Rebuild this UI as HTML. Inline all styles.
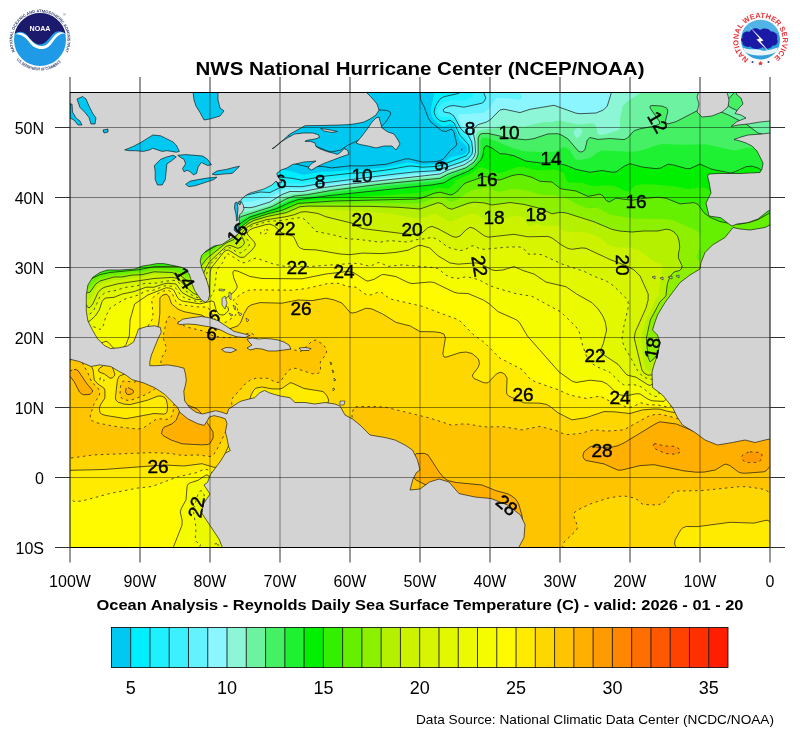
<!DOCTYPE html><html><head><meta charset="utf-8"><style>html,body{margin:0;padding:0;background:#fff;width:800px;height:737px;overflow:hidden}svg{display:block}</style></head><body><svg width="800" height="737" viewBox="0 0 800 737">
<rect width="800" height="737" fill="#fff"/>
<g>
<defs><path id="noaatop" d="M14.99 51.66 A27.60 27.60 0 1 1 65.01 51.66"/><path id="noaabot" d="M16.56 59.67 A30.60 30.60 0 0 0 63.44 59.67"/></defs>
<circle cx="40" cy="40" r="26" fill="#1f9ae6"/>
<path d="M14.6 34 A26 26 0 0 1 65.6 34 C62 31 57 30 53 34 C49 38 46 44 40 44.5 C34 44 31 40 27 35 C23 31 18 31 14.6 34 Z" fill="#1c1a6c"/>
<path d="M15 34.5 C20 31 25 33 29 38 C33 43 37 46 42 46 C47 46 50 41 54 36 C57 32 61 31 65.5 33.5 C61 33 58 35 55 39 C52 43 49 48.5 43 49 C37 49.5 33 47 29.5 42.5 C25.5 37.5 21 33.5 15 34.5 Z" fill="#fff"/>
<text x="40" y="30.5" text-anchor="middle" font-family="Liberation Sans, sans-serif" font-weight="bold" font-size="7.6" fill="#fff" textLength="21" lengthAdjust="spacingAndGlyphs">NOAA</text>
<text font-family="Liberation Sans, sans-serif" font-weight="bold" font-size="4" fill="#34406e"><textPath href="#noaatop" textLength="118" lengthAdjust="spacingAndGlyphs">NATIONAL OCEANIC AND ATMOSPHERIC ADMINISTRATION</textPath></text>
<text font-family="Liberation Sans, sans-serif" font-weight="bold" font-size="4" fill="#34406e"><textPath href="#noaabot" textLength="50" lengthAdjust="spacingAndGlyphs">U.S. DEPARTMENT OF COMMERCE</textPath></text>
<text x="63" y="16" font-family="Liberation Sans, sans-serif" font-size="4" fill="#555">®</text>
</g>
<g>
<defs><path id="nwsring" d="M748.74 58.83 A22.20 22.20 0 1 1 772.26 58.83"/></defs>
<circle cx="760.5" cy="40" r="19.5" fill="#2f9fdc"/>
<path d="M742 33 A19.5 19.5 0 0 1 779 33 Z" fill="#52b4e6"/>
<path d="M742.5 38 C741.5 33 746 30.5 749.5 32 C751 28 757 27 760 30 C763 27.5 769 28 771 31.5 C775 31 778.5 35 777 39 C779 42.5 776 46.5 772.5 45.5 C771 49 765 50 762.5 47 C759 50 752 49.5 750.5 46.5 C746 48 741.5 45 742.5 42 C740.5 41 740.5 38.5 742.5 38 Z" fill="#1a1aa6"/>
<path d="M743 47.5 C750 51 755 48 760.5 50 C766 52 772 49 778 47.5 L776.5 51.5 C770 56.5 751 57 744.5 51.5 Z" fill="#e8f4fb"/>
<path d="M748.5 25.5 L759.5 38.5 L756.5 39.5 L771 54 L760.5 41.5 L763.5 40.5 Z" fill="#fff"/>
<text font-family="Liberation Sans, sans-serif" font-weight="bold" font-size="7.4" fill="#e53238"><textPath href="#nwsring" textLength="112" lengthAdjust="spacingAndGlyphs">NATIONAL WEATHER SERVICE</textPath></text>
<circle cx="752.5" cy="62" r="1" fill="#2a3a9a"/><circle cx="768.5" cy="62" r="1" fill="#2a3a9a"/>
<path d="M760.5 61 l0.8 1.6 1.7 0.2 -1.3 1.1 0.4 1.7 -1.6 -0.9 -1.6 0.9 0.4 -1.7 -1.3 -1.1 1.7 -0.2z" fill="#e53238"/>
</g>
<text x="420" y="75" text-anchor="middle" font-family="Liberation Sans, sans-serif" font-weight="bold" font-size="19" textLength="449" lengthAdjust="spacingAndGlyphs">NWS National Hurricane Center (NCEP/NOAA)</text>
<defs><clipPath id="mc"><rect x="70" y="92" width="700" height="455"/></clipPath></defs>
<g clip-path="url(#mc)">
<g stroke="none"><rect x="66" y="88" width="710" height="464" fill="#00c8f0"/><path fill="#00eeff" d="M68 88l93.9 0 6.1 6.4 50 37.6 32 20.3 11.9 5.7 2.1 2 0.1 2-2.8 6 0.1 2 2.6 0.5 14-1.6 12 2 10 3.2 4 0.6 18-3 10 0.1 20-2.2 12 0.1 22-2.4 20-4.6 6 0.1 10 2.1 14-0.7 7.7-2.2 8.3-5.6 8-0.8 4.7-1.6 2.1-2 0.6-2-0.2-2-1.2-2.3-6.1-5.7-5.9-13.6-2-1.9-2-0.3-4.5 1.8-3.5 0-6-4-3.3-4-1.5-4-0.5-4 3.6-16-1.4-6 341.1 0 0 462-708 0 0-462z"/><path fill="#1ef0ff" d="M68 88l92.3 0 1.2 2 6.5 5.9 50 37.5 20 13.2 21.9 13.4 0.3 2-2 4-10 10-1.3 2 0.6 2 4.5-0.1 20-3.4 20 1.8 10 2 20-3.8 30-3.3 14-0.6 24-3.1 18-3.3 4-0.2 10 1.2 14-0.7 4-0.9 26-9.7 2.2-1.9 1-2 0.3-2-0.6-4-0.9-2-8-8.6-6-12.5-2-1.8-2-0.8-6 1.3-4-0.8-4-3.5-2-5.3 1.5-6 4.5-7 4-2.3 14-3.1 2.7-1.6 2.4-4 310.9 0 0 462-708 0 0-462z"/><path fill="#3cf0ff" d="M68 88l90.5 0 1.5 2.5 8 7.2 48 36 22 14.9 12.3 7.4 5.1 4 1 2-0.3 2-1.3 2-22.4 20-1.2 2 0.8 1.7 2 0.2 30-5.3 8 0.6 12-2.3 18 0.9 24-4 38-4.2 46-6.1 14-0.1 12-0.8 4-0.9 24-8.7 4.8-3 2.2-4-0.2-6-1.3-4-3.5-4.5-6-6.1-3.4-7.4-2.6-4.2-4-2.9-8 0.2-2-0.7-2.2-2.4-0.4-4 2.6-4.8 4.5-3.2 7.5-1.8 12 0.2 6.5-2.4 2.7-2 0.6-2 0-6 300.2 0 0 462-708 0 0-462z"/><path fill="#64f2ff" d="M68 88l88 0 0.6 2 1.7 2 7.7 6.9 60.8 45.1 15.3 14 3.6 4 0.2 2-1.4 4-3.8 6-16.7 13.1-8.7 8.9-0.9 2 1.6 1.4 2 0.3 30-4.9 12-2.8 10 0.5 10-4.9 4-1.2 18 0.3 22-3.8 70-8.7 20-2.2 22-1.3 4-0.9 22-8 6-2.9 2-1.7 2-3.1 0.7-4.1-1-8-3.7-7.1-6-4.6-1.6-2.3-6.4-11.8-4-3.1-5.9-1.1-1-2 1.8-2 5.1-2.1 4-0.3 10 1.6 18-4 2-1.5 1.9-3.7-0.4-2-2.1-4-0.5-4 291.1 0 0 462-708 0 0-462z"/><path fill="#8cf6ff" d="M68 88l39.1 0 0.9 3 4 6.5 23 32.5 19 28.4 6 7.9 23.8 17.7 20.2 11.5 2 1.9 1.3 2.6 0.2 8 2.5 0.5 36-6.7 6-0.2 10-2.9 6-0.9 4-1.5 10-5.7 4-1.4 16 0.2 16-3.2 26-3.6 70-8.3 22-1.5 4-0.9 6-2.9 14-4.5 8-3.6 3.4-2.9 2.2-4 0.5-4-0.7-8-1.4-5.1-2-4.5-2-2.7-6-3.7-2-3.8-1.8-6.2 1.3-2 6.5 0.1 18-1.4 4-2.9 8-11.1 2-0.7 10 0.2 10 1.6 2-0.4 1.8-1.4 0-2-2.4-4-0.1-4 254.7 0 0 462-708 0 0-462z"/><path fill="#8cf6d6" d="M68 88l36.8 0 1.2 3.6 4 6.6 25.3 35.8 16.7 25.1 6.9 8.9 24.3 18 18.8 10.6 3.2 3.4 0.1 4-1.3 2-10.6 10 0.6 2 30-4.7 10-2.5 10-3.4 6 0.3 4-0.7 15.9-5 12.1-7.5 4-1.9 4-1.1 12 0.1 20-3.8 22-3.1 72-8.5 20-1.3 4-0.9 8-3.9 8-2.2 8-3.1 4-1.9 4-3.2 2.5-3.7 1-4-0.5-10-1.8-10 0.8-3.7 4-3.6 10-3.3 2-1.4 8-8.7 4-2.1 4 0.3 10 2.7 4 0.4 10-3.3 24-4 4 1 18 6.9 4 0.5 16-0.7 3.7-1 3.6-2 2.7-2 1.3-2 4.3-14 0-4 162.4 0 0 462-708 0 0-462z"/><path fill="#6cf2a0" d="M68 88l35.3 0 2.5 6 4.2 6.5 23.7 33.5 16.3 24.5 8 10.5 24 17.7 12.1 7.3 5.9 2.9 3.7 3.1 0.5 2-0.5 2-1.7 2-13 10-8.2 8-1.4 2 0.6 1.1 2 0.3 26-3.9 18-4.7 16-6.4 8-1.1 18-5.4 4.5-1.9 11.5-7 8-3.1 12-0.6 24-4.4 37.6-4.9 52.4-6 18-1 4-0.9 8-4.1 8-2.3 10-3.8 4-2.3 3.8-3.6 2.9-6 0.3-4-1-14.6 0.1-1.4 1.9-2.7 6-1.9 10-1 8-3.1 22 1.2 20-4.5 8 0.2 4-1.2 4-0.2 18 3.7 12-1.1 4 0.3 2.1 2.3 1.1 6 0.8 1.8 2 1.1 4-0.3 9-2.6 5.8-2 1.5-2-0.5-8 2.9-14 3.7-4 12.2-8 1.6-2-0.1-4 133.9 0 0 462-708 0 0-462zM577.5 128l-1.5 0.5-1.4 1.5-1 2 0 2 2.4 3.6 2 0.5 2-1.8 1.3-2.3 1-2 0-2-2.3-2-2-0.3z"/><path fill="#46f064" d="M68 88l34.1 0 2.5 6 5.1 8 22.6 32 17.4 26 7.7 10 24.6 18 17.8 10 2.5 2 0.6 2-0.9 2.3-28.2 21.7-6.9 6-3.2 4 0.3 0.7 2 0.6 30-4.4 26-7.4 8-3 12-6.2 30-9.7 14-7.6 8-2.9 14-1.5 24-4.3 50.1-6.3 35.9-4 16-0.7 6-1 8.3-4.3 17.7-6.2 4-2.2 4-3.4 2.9-4.2 1.3-4 0-16 0.5-2 1.3-1.6 2-0.8 6-0.2 22 4.9 16 1.5 8-1.2 14-4.7 10-0.2 4 1.6 6 3.7 10 11.8 2 1.1 2 0 2.8-1.9 2.5-10 2.7-2.5 8 1.9 12-0.9 14 1.1 3.5-1.6 4.5-5.7 2-1.5 6-2 14.9-2.8 4.5-2 0.4-2-9.7-14 0.1-2 3.8-0.6 8 0.7 4.6 1.9 1.1 2 0 2-2.5 10 2.8 1.9 4-0.6 4-1.6 24-12.4 4-0.5 8 0.6 8 2 8 3.4 18.1 9.2 11.9 9 8 2.1 2 1.6 3.1 5.3 2.9 1.9 0 406.1-708 0 0-462zM738 88l15 0-0.1 22-0.9 3.9-2 1.6-4-0.4-4-1.8-12-6.1-3.2-3.2-0.2-2 0.9-2 8.5-9.2 1.5-2.8z"/><path fill="#1ef032" d="M68 88l32.9 0 1.4 4 3.3 6 26.4 37.5 16.3 24.5 7.6 10 26.1 19.2 18.6 10.8 1 2-1.6 2.6-31.9 23.4-12.5 10-5.3 6-0.8 2 2.5 0.9 18-2.1 14-2.5 36-10.9 8-3.5 10-6.3 12-6.1 23.4-7.5 14.6-7.2 8-2.8 20-2.6 16-2.8 53.3-6.6 54.7-5.2 10-5.1 18-6.7 6.7-5 3.1-4 1.8-4 0.7-4 0.4-12 1.3-2.1 2-0.5 6 1.3 24 9.9 10 2.6 16 0.9 12-0.1 6-1.4 4-2.8 2-0.6 2 0.2 4 3 4.3 7.6 1.7 1.4 4 0.7 10-2 8-5.8 4-1.8 28 1.2 6-0.2 7-1.5 15-5.2 4-0.8 24 0.8 20-0.5 28 6.3 4-0.5 8-2.3 6-0.1 6 1 8 4.1 2-0.3 3.1-2.5 2.9-0.8 0 400.8-708 0 0-462z"/><path fill="#00f000" d="M68 88l31.5 0 3.3 8 3.9 6 23.3 32.9 16.7 25.1 7.5 10 3.8 3.6 10 6.4 12 9.2 18.6 10.8 1.4 2-1.2 2-2.5 2-40.3 28.7-16.1 13.3-5.9 6-0.7 2 2.7 1 16-1.7 18-3.2 46-14.1 8-3.7 14-9.8 12-7.5 26-8.2 14-6.5 8-2.7 34-4.3 100-10.4 12-2.1 8-4.9 16-6.5 6-4 6.8-7.4 2-4 1.2-7.9 2-2.5 6 2.4 8 5.7 6 0.3 8 1.8 12 5.3 14 1.8 16-0.5 12 3.6 8 3.4 14 2.9 12-1.8 10 1.7 4-0.3 2-0.8 6.6-5.1 5.4-2.3 2.9 0.3 9.1 3 14 1.7 4.7-0.7 5.3-3.3 2-0.5 6 0.9 12 3.4 4 0.1 8-4.1 2-0.4 2 0.3 10 4.9 18 3.6 4-0.7 12-5.5 6-0.6 6 1.9 12.2 8 3.8 1.6 0 372.4-708 0 0-462z"/><path fill="#32f000" d="M68 88l29.3 0 1.2 4 4.4 8 25.1 35.6 19 28.4 6.1 8 2.9 2.6 12 7.3 12 9.2 15.6 8.9 1.9 2-1.2 2-16.2 12-12.1 7-14 9.8-30.2 23.2-6.6 6-1.2 2 0 2 2 0.8 4 0.1 14-1.6 24-4.3 48-15.1 8-3.3 6-3.4 28-20.8 16-5.3 12-3.2 14-6.4 6-2 34-3.3 82-4.9 6-0.8 18-4.5 10 0.3 2-0.6 1.9-1.7 4.6-6 15.5-7.1 6-4.4 4-1.5 16 6.2 4-0.7 14-5.1 4-0.8 4 0.4 8 2.2 8 1.1 12-0.9 4 0.3 6.1 2.3 2.1 2 2.2 6 1.6 1.9 2 0.7 12 0.2 8 2.7 4 0.8 10-1.1 8 0.4 4 0.9 8 3.9 4 0.9 2-0.6 4-4.5 2-1.2 6-0.8 12 0.4 20 1.7 14 2.6 14-1.7 4 1 6 4.6 4 2.2 6 1.9 4-0.3 10-2.7 18-3.1 4-0.2 6 1.5 2-0.1 4.6-6 3.4-1.8 0 365.8-708 0 0-462z"/><path fill="#64f000" d="M512 175.6l6-1.1 4 0.1 10 2.8 8 3.9 12 0.7 2 0.9 5.6 5.1 2.4 1 14 2 12 5.4 2 0.1 6-1.9 4-0.5 3.2 1.9 2.5 4 2.3 1.8 2.2 0.2 5.8-3.8 16 2.1 10-1.7 16-1.4 8 1 10 4.6 4 1.1 14-1.3 2 0.4 2 1.4 6 8.4 6 4.5 10 4.3 10 1.9 10 0.6 10.5-2.1 7.5-2.4 10-5.7 6-2.4 0 338.5-708 0 0-266 2-2 4-0.5 10 0.2 4-0.7 4-1.3 10-5 10-2.2 12-0.7 18-2.2 14-3 26-0.3 8-6.3 18-8.3 12-6.9 12.2-8.8 8.9-8 10.9-8.4 18-5.9 14-3.4 16-6.9 6-0.9 30-1.5 82-1.9 5.9-1.1 12.1-4.7 6-1.1 4 0.6 6 2.1 2-0.2 4.6-2.7 7.4-8 2-1.2 16-5.8 4-0.5 10 3.2 4 0.3 10.7-4z"/><path fill="#8cf000" d="M484 187.7l4-0.4 2 0.5 4 2.6 4 1.2 4-0.2 8-2.2 4-0.2 12 1.3 14 4.3 12 0.4 6.1 1 7.6 2 12.3 6.7 8 3 4 0.8 6-0.9 2 0.4 10 5.8 4 1.2 24 3.8 30 0.2 8 1.5 21.2 9.5 2.8 2 1.5 2 0.8 4-0.5 10-1.1 4-2.1 4-0.1 2 1.5 2 2 0.5 2-0.6 14-9.1 8-0.2 6-1.3 26-8.2 10-5.2 2 0.8 2 6 1.2 9.3 2.8 44.2 0 253.8-708 0 0-249.8 5.7-2.2 10.3-6.5 6-2.8 6.1-6.7 3.9-2.9 14-4.2 10-0.3 10-1.8 10-0.6 14-3 18 1.2 14 5.7 2-1.3 7.7-10.8 5.7-6 20.6-15.4 8-5.2 6.9-7.4 11.1-9.1 18-5.9 16-3.5 14-6.3 8-1 58-1.1 54 0.3 6-1.3 12-4.9 4-0.5 4 1.2 6 3.6 2 0.2 6-2.4 12-8.2 12.8-3.1z"/><path fill="#b4f000" d="M434 203.8l4-1.1 2 0.1 8 5.4 4 1 20-6.9 10 0.3 10 2.4 18-2.5 4 0.1 24.9 5.4 13.1 5.8 8-1.5 6 0.6 26 8.2 18 7.6 8 2.1 14 1.2 12-1 14 0 8-1.8 4 0.6 4.1 2.2 3.4 4 1.8 6 0.4 6-1.3 6 0 4 3.6 7.6-0.1 2.4-1.9 2.4-6 1.6-2 1.5-2 2.9-2.7 7.6-1.4 12-1.3 2-4.7 4-9.6 18-3.9 18 1.6 19.1 2 4.8 2-1.1 2-2.1 4-5.4 33.1-63.3 6.9-10.7 2-1.8 4-2 52-16.5 8-3.8 2-0.2 2 3.4 1 5.6 2.6 32 2.4 8.9 0 245.1-708 0 0-247.9 6-2.1 12-6.7 6-1.1 5.8-8.2 4.2-3 14-4 8 0 10-1.9 10-0.4 12-2.9 10 0.9 8-0.2 4 0.9 4 1.8 10 7.8 2 0.7 1.4-1.7 1.1-6 1.9-4 11-14 18.6-15 8-3.5 4.9-7.5 9.1-8.4 6-3.2 14-4.1 18-3.6 14-6 8-0.6 64 0.3 28 1 20 1.6 4-0.9 9.5-4.1z"/><path fill="#cdf200" d="M298 209.8l4-1.2 10 0 61.9 3.4 18.4 2 25.7 4.7 6-1.3 8-3 4-0.3 12 6.6 4 0.9 11.2-5.6 8.8-2.2 6 0.9 10 6.6 4 1 20-5.8 6-0.5 4 0.8 2.3 1.2 1.4 2 0.9 4 1.4 2.1 2-0.1 6-2.1 8 1.5 12 0.3 2 0.4 4.2 3.9 3.8 1.7 18 0.6 10 2.6 6 3 8 6.6 4 1.8 6 1 12 0.5 8 2 12 8.9 10.3 5.3 1.7 1.7 0.7 2.3-3.1 16-0.7 10-3.6 6-3.1 8-5.3 10-5.7 18-0.2 4 1.2 12 1.8 11 1.3 5 1.2 2 1.5 1 2 0.1 2-1.2 8.3-9.9 27.7-52.2 4-6.7 4-5 6-3.6 12-2.2 42-13.5 8-3.2 2 0.6 2 5.9 3.5 25.9 1.4 26 1.1 2.6 0 215.4-708 0 0-246.4 4-0.9 14-6.6 2 0.5 2 2.2 2 0.9 2-2.1 4.5-9.6 1.6-2 3.9-2.4 12-3.6 10-0.5 8-1.7 12-0.8 10-2.4 10 0.8 8-0.5 4 0.8 6 3.4 6 6.4 4 3.3 4 1.9 1.2-0.7 0.9-2 0.2-10 1.1-4 8.6-13.5 6.6-6.5 11.4-9.4 4-1.5 6 0.6 2-0.7 0.9-1 0.4-2-0.3-4 0.5-2 3-4 5.5-4.9 6-3.3 16-4.6 18-3.1 9.5-4.1z"/><path fill="#d7f500" d="M302 211.8l7.8 0.2 10.2 2 6 2.8 26 6.4 10 5.3 48 6 6-0.1 6-1.5 6-5.3 2-1 2-0.2 6 2.3 14 7.6 4 1.1 4-1.4 6-6.2 4-2.5 4 1.1 10 7.2 4 1.6 4-0.1 12-2 10-0.8 14 2.5 20-0.4 4 1.6 10 7.3 6 3.2 4 0.8 10-1.4 4 0.4 24 11.2 16.9 6.5 7.2 4 6 6 8.1 18-0.1 6-2.1 8-10.7 24-1.1 6 7.7 32 2.1 3.1 4 2.1 4-0.3 10-7.5 24-44.3 4-6.2 4-4 4-2.1 8-3 14-1.6 44-14.3 2 1.3 2 6.3 1.4 8.5 1.9 26 1.2 2 1.5 0.6 0 213.4-708 0 0-244.9 4-0.7 12-4.1 2 1.2 4 6.1 2-0.2 2.8-3.4 5.2-11.4 2.2-2.6 3.8-2.6 14-3.6 36-5.3 18-1.1 4 0.7 4 2.1 6 7 8 6.5 4 1.3 2-0.6 1.6-2.4 0.5-2 0.5-14 5.4-12.2 5-5.8 13-11.7 4-1 8 3.1 2-0.4 2-1.5 2-2.5 0.4-2-2.8-6 0-2 1-2 3.8-4 5.9-4 13-4 24.7-4.2 11.1-3.8z"/><path fill="#e1f800" d="M298 217.7l4 0.2 2 1 10 10.9 3.4 2.2 18.6 3.5 12 3.5 8 0.1 24 3.1 10-1.6 18 1.5 10-2.8 8-0.6 6-1.5 6 2.5 6 5.2 4 2.4 8 2.7 4 0.6 4.2-0.6 7.8-4.2 2 0.1 6 2.9 4 0.5 26-2.4 10 0.1 4 2.1 4 4.7 2 0.6 8-0.5 4 1 6 3.2 14 5.9 22 7.4 9.3 4.6 12.7 4.8 4 2.1 3.7 3.1 12.1 12 2.2 3.4 0.5 4.6-4.6 20-1.8 12 0.4 4 3.2 8 4.3 6.3 4.7 9.7 2.5 4 4.8 5.8 6 3.3 4 0.2 6-3.4 4-0.6 2.3-1.3 19.7-35.5 4-5.3 4-3.1 18-7 14-0.5 40-12.7 2 1.2 2 7.3 1.6 15.6 0.7 2 1.7 1.5 2 0.4 0 212.1-708 0 0-243.1 14-1.7 2 0.9 1.2 1.9 2.8 7 2 0.2 4-2.8 2-2.6 6-13.2 2-2.1 4-2.4 8-1.2 12-3.6 10-1.2 8-2.5 12-0.5 8-1.9 8-1 4 0.6 2.4 1.2 5.6 7.7 9.3 6.3 4.7 1.7 4-0.7 2-1.8 1.5-3.2 1.2-18 1.5-6 1.8-3.4 13.5-14.6 2.5-1.9 2-0.6 2 0.2 6 3.8 4 1.5 2-0.4 3.3-2.6 3.5-4 0.7-2-0.4-2-4.6-6-0.6-2 0.8-2 3.3-3.5 4.2-2.5 15.8-4.7 12-0.6 16.3-2.7z"/><path fill="#ebfa00" d="M262 225.7l6-1.6 4 0.6 2.3 1.3 7.7 7 10.5 3 1.5 1.2 4.1 8.8 1.9 2 4 1.5 12 0.4 24 4.1 10 0.7 12-1.6 20 0.5 14-1.2 12-2.2 10-4.6 4 0 7.7 2.4 8.3 7.8 12 7.2 8 1.2 18-1.4 6 1.7 10 5.4 4 0.7 6.9-0.6 11.1-3.4 10 4.3 10 3.1 8 5.9 4 2.2 6 1.8 14 2.8 4 2.2 6.6 5.1 15.4 8.7 6 6.2 4.8 7.1 2.5 6 1.3 8-3.4 14-2.5 6 0.1 2 1.6 2 15.6 10.3 8 9.8 2 1.2 8 1.9 12 7.6 2 0.6 2-0.5 6-3.7 6 0.5 2-0.6 2.5-3.1 13.5-23.8 2-2.5 4-3.2 24-9.6 4-0.6 14 0.2 34-10.4 2 2 1.7 5.9 1.4 2 4.9 0.9 0 211.1-708 0 0-240.5 8-0.1 4.4 0.6 1.9 2 1.1 10 0.6 1 2 0.7 6-3 5.3-4.7 4-6 2.7-8.3 2-2.7 1.9-1 8.1-0.7 8.2-3.3 11.8-2.4 12-4.4 8 0 10-3.4 4-0.6 6 0.1 2 0.7 1.9 2 4.1 6.4 6.1 3.6 7.9 3.4 4 0.5 2-0.4 3.1-1.5 2.2-2 2-4 0.9-20 2.1-6 5.8-6 5.8-8 2.1-1.6 2-0.5 2 0.6 10 6.8 2 0.4 2-0.4 2-1.4 7.8-7.9 1.2-2 0.2-2-2.6-4-4.6-4.4-0.9-1.6 0.4-2 2.1-2 2.4-1.2 9.1-2.8z"/><path fill="#f5fc00" d="M266 229.7l2.3 0.3-0.3 2.2-4 2.2-3.2-0.4-0.1-2 4.1-2zM228 253.7l2 0.8 8 6.1 4 2.1 4 0 6-3.4 4-1.2 4 0.9 14 5.2 10 2.1 26 0.2 44-3.2 6 0.5 10 2.6 2-0.5 6-3.3 2 0.1 8 3.7 14-1.5 32 2.7 4 1 8 6.6 6 2.4 6 0.8 8-1.6 6 1 7.2 2.2 10.8 5.7 6 2.2 20 5.8 16 2.6 28.9 15.7 15.1 14.8 3.3 5.2 3.5 14 4.4 12 5.5 6 5.3 3.2 12 5.2 10 9.9 4 2.7 4 0.4 6-0.6 4 0.6 4 2 10 7.9 4 1.3 2.4-0.6 0.9-2-1.1-6 1.8-1.2 6 1.7 2-0.4 2.1-2.1 5.9-10.1 4-5.6 2-2 4-2.4 30-11.7 4-0.4 14 0.8 6-1.2 20-6.4 4-2.3 2.3-2.7 1.7-1 6-1.2 0 210.2-453.3 0-0.7-0.9-4-0.9-92.9-2.2-9.1-2 31.3-4 6-2-0.2-2-9.6-6-1.7-2-3.4-8-2.4-2-6-0.2-14 3-2 0-2-1.1-2.3-5.7-3.7-19.5-2-3.7-2 0.2-2 3.2-4.8 15.8 2.1 10 0.8 8-1 12 1.5 2 4 2-0.4 2-4 4-130.2 0 0-216.5 10 2.4 12-7.4 4-1.7 2 0 6 2.7 2-1.2 1.2-2.3 2.7-10 2.1-4.8 2.2-3.2 13.8-8.6 14-4.3 8-4 8-1 10-4.1 4-0.4 6 1.1 2 1.7 5.2 7.6 4.8 2.6 12 3.2 4-0.2 4-1.5 3.3-2.1 4-4 2.2-12 1.1-12 6.6-8 2.1-6 1.8-2z"/><path fill="#fffa00" d="M234 270.5l4 0.7 12 5.3 12 2 40 0.3 24-4.8 14-2.1 8-0.5 6 1.4 12 7.8 2 0.5 6-1.7 8-4.8 2-0.1 12 2.1 6 2.4 6 3.5 4 1.1 18-1.6 4 0.5 20 9.7 4 1 8-0.1 2 0.4 15.3 6.5 6.1 4 8.6 7.6 18.8 8.4 3.2 3.4 7.4 12.6 8.6 9.1 8 9.9 15.1 17 12.9 9.1 4 1.4 14-2.3 12 1.3 5.1 2.5 8.9 8.4 4 2.5 6 1 10-2.1 4 0.1 8 5.3 4 1.6 10 0.9 2-0.3 16-16 36-14.7 6-1.3 20 0.8 20-6.1 2-1.4 2-4 2.7-14.7 1.6-2 3.7-1.3 0 209.3-450.8 0-1.2-3.8-2-1.5-6-0.7-5.8-2 2.2-2-0.1-2-2.7-2-25.6-12.6-5.6-3.4-2.9-4-5.5-17.8-1.5-2.2-2.5-1.8-4-0.7-4 0.4-38 9.1-2 0.2-2-0.5-2-3.5-0.7-3.2-1.5-18-1.8-2.8-2-0.2-8 5.3-8 2.6-1.7 1.1-1.2 2-1.1 13.9-4.5 8.1-1.3 4 1.9 8-0.1 5.3-4 11-4.7 9.7-1.1 4-106.2 0 0-214.1 4 1.1 6 3.4 2 0.5 2-0.6 6-4.1 4-0.8 2 1.1 4 5.4 2 1.7 2 0 6-2.4 2 1 2.9 3.8 2.5 2 4.6 1.2 4-0.4 2-1.5 2-2.7 3.3-8.6 0.8-16 3.5-14 1-2 2.1-2 5.3-2.7 6-4.4 6-2.1 8-3.9 4-1.1 4 0.3 3.7 1.9 4.3 8.4 2 1.9 2 0.7 18 2.9 4-0.5 8-2.5 2 1.1 2.1 8 1.9 3.2 2 1.6 2 0.5 2-0.4 3.4-2.9 1.2-2-0.3-2-3.8-4-0.4-2 0.6-2 1.4-2 7.9-6 3-4 0.2-2-3.4-8-0.8-6z"/><path fill="#ffeb00" d="M326 283.8l10-0.8 4 0.7 8 2.9 6 0 4 1.8 6 5 4 1.9 2-0.1 8-3 2-0.2 2 0.6 6 4.9 4 1.9 29.2 6.6 34.8 12.7 5.2 3.3 11.4 12 11.4 8.2 15.8 15.8 22.2 11.5 2.7 2.5 4.3 6 3 2.3 26 9.4 12 5.4 16 3.3 4-0.2 6-1.6 4-0.4 4 1.5 7.8 4.3 8.2 2.2 8 3.1 4-0.2 8-4.2 2 0 6 1.7 10 0.4 8 2.1 2 0 10-4.5 44-17.2 4-0.5 22 1.2 14-4.1 2-1.2 1.7-2.8 1.1-4 1.2-5.9 2-22.1 0.6-2 1.4-1.4 2-0.9 0 208.3-449.1 0 0.6-4 2.5-1.9 29.7-2.1 9.5-2-0.6-2-48.6-24.1-6.7-3.9-1.9-2-1.4-2.8-8-27.7-4.3-5.5-3.1-2-2.6-0.5-10 1.5-58 14.2-4 0.5-2-1.3-2.3-8.4-1.7-3.4-4-2.8-4-0.4-8 3.4-18 4-26 9.7-14 1.5-28 5.5-28 7.5-8 0.5-4.8-3.5-3.2-0.9 0-159.8 6 2.6 6 5.2 2 0.6 6-2 2 0.7 2 2.3 4 8.1 2 2.8 2 1.4 4 0.4 10-2.1 2.5 0.7 3.5 3.1 2 1 2-0.4 12-9.4 4.1-4.3 2.4-10 11.5-18.3 1-5.7-1.3-14 0.8-2 4.6-4 4.9-2.7 4-1.2 2 0.1 3.6 1.8 4.4 9.8 4 2.8 16 2.2 10-0.1 2 0.5 4.6 8.8 2.9 4 2.5 1.9 4 0.9 4-0.7 8.9-6.1 2.1-4 1-6-1.1-2-3-2-0.6-2 8.7-6.6 6-3 4-0.6 40 0.4 14-1.6 19.1-4.6zM99.9 378l0.1 2.3 2 1.1 2-0.5 0.2-0.9-1.5-2-2.7-0.1z"/><path fill="#ffd700" d="M162 295.6l4-1.5 2 0.9 3.6 9 1.8 2 4.6 3.2 6 2.5 18 3.5 4 2.8 8 9.6 4 1.6 6 0.8 4-0.6 10-3.6 2.9-3.8 3.1-8.3 2-4.2 2-2.6 4-2.3 8-2 6-0.2 16 0.8 16-3.2 14 0.6 14-2.4 8.3 1.8 7.7 3.1 2 1.7 6 7.5 2 0.8 4-0.8 10-4.1 6 0.8 10.7 5 13.3 8.4 14.3 3.6 9.7 5.6 14 0.2 6 0.8 3.9 1.4 1.2 2 0.3 2-2.6 16 0.3 2 0.9 1 2 0.2 14-4.6 6-0.6 6 1.5 5.5 4.5 1.3 2 0.6 4-1.4 3.6-4.9 6.4-0.7 2 1.6 2.5 4 2.3 6 2 4 0 2-1.5 6.3-7.3 3.7-1.6 2 0.3 2.6 1.3 1.7 2 0.7 2 0.3 6-0.7 8 0.3 2 1.7 2 5.4 2.9 10 4 4 0.5 12-0.2 6 1.1 4 2.1 8 6.4 12 6.6 2 0.5 14-2.2 18-6.1 10 0.2 12 1.7 4 0 12-3.5 12-1 6 0.2 8 2.2 14 2.5 6 0.3 6-1.3 32-12.2 6-0.1 20 1.5 4-0.5 6-1.7 2-1 2-2.5 2-6.8 2-18.7 1.2-22.9 0.8-3.3 2-1.7 0 182-6-4.6-2-0.1-12 2.8-24-0.8-32 4.3-12-0.1-3.3 1.5-2.1 2-5.6 10-0.4 4 1.4 2.4 1 3.6-350.5 0 1.5-3 4-1 70.8-2 19.1-2 3.2-2-2.3-2-3.8-2-65.7-32-7.3-4.2-1.8-1.8-1.9-4-10.3-37-4-5.7-6-5.1-4-0.7-4 0.4-68 16.2-12 2.1-6.2-0.2 0.8-2 8.1-6 73.9-48 5.4-2.4 10-1.4 2.6-2.2 0-2-1.5-4-3.6-4-3.5-1.2-16-2.3-12-5.5-2-0.2-2 0.9-5.3 4.3-2.7 1-8-0.1-12-2-3.8 1.1-2.3 2-2.4 4-4.8 14-20.7 43.5-2 4.8-2.1 7.7-1.3 2-2.6 1.4-4-0.1-8-3-4-0.6-18 2.3-20-1-20 1.9-40 2.6-20 0.3-12 1-6-0.4 0-131.6 3.5 1.2 2.8 2 3.2 4 2.5 4.8 2 1.1 4 0.5 2 2 7.1 15.6 0.5 8 0.7 2 3.6 4 5.9 4 1.1 2 0.5 4-0.5 4-4 6-1.6 4 0.2 4 2 2 6.5 1.9 18 2.8 28-5.2 4-0.2 6 0.8 2-0.7 1.5-3.4-0.4-8-2-4-3.1-1.8-4-0.2-9.9 4-6.1 1.1-12 3.5-6-0.5-6-1.9-2.1-2.2-0.5-2 2-18 2-4 10.2-4 6.7-8 13.2-12 3-4 0.1-2-1.5-6 0.2-2 6.9-12 1.6-12-0.2-14 0.3-2 1.6-2zM104 365.6l4-1.2 2 0.2 2 1.6 1.9 3.8 1 4-0.5 2-2.3 2-2.1 0.2-5.5-4.2-5.3-2-0.8-2 1.3-2 3.4-2z"/><path fill="#ffc400" d="M168 317.3l2-0.8 4 1.3 8 6.8 4 2.3 18 4.3 10 4.8 12 1.8 10-0.7 6-1.1 6-3.1 2-0.3 2.9 1.4 7.1 8 4 2.7 8-0.5 4 0.4 22 6.9 2 0.1 2-0.9 10-9.6 2-1.1 2-0.1 4 2.1 4.4 4 1.6 2 0.7 4-1.9 4-3.6 4-0.9 2 0.3 8-0.7 2-1.9 1.5-2 0.6-4-0.3-16-5.4-4-0.2-2 0.8-2 1.8-8 11.3-2 0.6-2-0.2-8-4.2-12-0.1-5.8 1.8-5 4-12.7 14-0.8 4 0.8 12-1.3 6-3.3 8-10.1 20-3.6 6-2.2 2-2 0.5-12-1.5-16 0.4-12-2-18-0.8-58 2.3-28 3.8 0-118.4 4 1.7 2.1 2 2.1 4 1.8 10.8 4 1.7 2 1.8 6 10.9 3.6 8.8 6.3 6 2.1 3.4 0.1 2.6-0.9 2-4.3 6-1.7 4-3 10 0.5 4 1.3 1.1 4 1.5 20 4.1 24 2.4 6-2.6 10-7 4-0.9 6 0.9 2-0.2 2.4-1.3 1.6-2 1.2-4 1.8-16 0-6-1-3.9-2-2.8-2-1.2-4 0.4-6 3.1-14 9-14 5.2-4 0.6-4-0.8-2-1.1-1.7-2.5-0.2-4 1-8 0.9-1.9 2-1.2 10 1.2 4-0.9 16.8-7.2 3.1-2 1.8-2 0.8-2 1-10 3.7-6 1.3-4-3.2-10-0.1-2 2.1-8 0.8-6 1.4-4zM774 345.1l0 148.8-4-1-4-2.7-4-1.2-14-2.2-8-0.2-38 4-26 0.5-4 2-5.2 6.9-2.8 2.6-2.4 1.4-3.6 1-8 0.2-6-0.6-2-0.7-4.3-3.9-3.6-2-8.1-1.8-8 0.1-10 1.9-16 5.1-10.6 4.7-6.5 4-1.1 2 0 2 3 8 0.7 4-1.5 2.6-11.9 11.4-1.6 4-0.7 4-233.1 0 1.3-1.2 4-0.7 68-0.9 62-2.5 12 0.9 8.2-1.6 0.8-2-6.3-4-92.7-45.2-4.9-2.8-2.1-2-2-4-13.2-48-2.4-4-6.9-8-2.4-4-0.1-6.6 2-5.8 2-0.9 4-0.2 18 0.1 8 0.7 22 5.8 22 5 22 7.2 10-1.3 6 0.1 16 2.8 20-0.1 18 3.1 18-3.5 16 4.2 8 3.4 4 0.5 12-1 14-3.8 12 1.5 16-1.2 4-1.3 10-6.1 13-6.6 7-1.8 6 0.3 14 3.6 14 5 10 1.4 6-0.3 4-1 20-7.1 30 1.7 4-1 2-1.6 2-4.2 1-5 1.9-16 2.5-44z"/><path fill="#ffaf00" d="M68 343.5l2.5 2.5 1.2 6-1.7 9.1-4 5.9 0-24.3zM74 369.6l2-0.1 2 1.1 4 5.2 5.1 8.2 5.2 6 0.2 2-2.5 2.4-2 0.6-4-0.2-2.2-0.8-2.3-2-5.5-10.7-6-7.3 0.1-2 4.2-2zM128 387.6l4.8 2.4 0.9 2-2 2-3.7 0.6-1.2-0.6-1.2-2 0.5-4zM774 396.1l0 69.3-4 1.1-4 4.4-2 0.9-22 1.3-4-1.3-8-6.2-4-1.5-2 0.5-8.7 5.4-11.3 2.1-8 0.1-12-1.3-14-2.4-12-3.3-4-0.5-14 0.9-18 4.4-4 0.2-4-1.3-10-5-18-3.4-2.6-2.5-0.4-4 0.9-2 2.1-2.3 4-2.8 2-0.7 6 1.1 14-0.2 6-1.4 6-2.8 32-19.4 4-1.7 4.8 0.2 11.5 2 21.7 9 10 2.2 14-0.7 12-2.9 28 2 4-0.3 2-1.3 2.7-6 2.1-14 1.1-14zM184 403.9l6 2.7 6 1.7 2.4 1.7 3.2 4 6.4 10.8 5.1 7.2 0.5 2-0.5 4-1.1 2.9-2 2.6-2 1-6 0.4-20-1.1-10.9-3.8-7.3-4-2.2-2 0.6-4 1.8-2.8 8-3.3 4.3-3.9 2.1-4 1.6-6.3 2-4.7 1.8-1zM416 453.7l2-0.6 6 0.2 4 1.6 11.1 17.1 5 6 3.9 2.6 8 1.9 18 1.3 8 1.2 14 5.7 12 3.2 4 2.3 4 3.2 2.7 4.6 3.4 12 0.6 4-0.4 2-2.3 1.1-10-3.7-10 0-10-2.9-68-33-6-3.5-3.4-4-1.5-8 2.4-10 2.1-4zM434 549.9l26-0.5 4.7 0.6-31.5 0z"/><path fill="#ff9b00" d="M654 443.9l2-0.3 8 2.4 10 0.3 4 1.7 2.1 2 0.2 2-2.3 1.7-2 0.6-6 0-4-0.7-8.7-3.6-3-2-1-2 0.6-2zM750 451.8l6-0.1 4 0.8 1.7 1.5 0.4 2-1.1 4-2.7 2-2.3 0.4-8 0.2-4-1.3-1.5-1.3-0.9-2 0.2-2 2.4-2 4.7-2z"/></g>
<g fill="none" stroke="#1a1a1a" stroke-width="0.85" opacity="0.85"><path d="M188 88l2 2 2 0 6 6 2 0 6 6 2 0 6 6 2 0 6 6 2 0 6 6 2 0 4 4 2 0 2 2 2 0 4 4 2 0 4 4 2 0 2 2 2 0 4 4 4 0 4-4 2 0 4-4 10 0.3 0.6 1.7 1.4 0.2 0.7 1.8 1.3 0.3 1.3 1.7 12.7 3.5 24 9.7 4 0.7 8.5-1.9 7.5-4.8 10-4.6 17.9-10.6 5.9-4 4.1-4 4.9-8-0.8-2.3-4-1.4-24-1.2-3.5-7.1-9.4-10-2.6-4"/><path d="M163.7 88l5.7 6 50.8 38 31.8 19.9 13.9 6.1 4.1 3.9 14-0.6 24 5.6 14-0.5 10 1.5 18-2.1 16 0.2 20-1.7 20-5.5 4 0.2 12 3.1 14-0.5 5.8-1.6 2.6-2 5.6-7.2 5.9-4.8 0.8-2-2.7-11.9-2-2.6-2 0-4 2-4-0.6-11.2-8.9-2.5-4-3.7-10-3.9-8-1.1-12M462 148.7l-0.7 1.3 1.1 0"/><path d="M160.3 88l7.7 7.9 50 37.5 41.9 26.6 0.3 2-2 4-10 10-1.3 2 0.6 2 4.5-0.1 20-3.4 20 1.8 10 2 20-3.8 30-3.3 14-0.6 24-3.1 18-3.3 4-0.2 10 1.2 14-0.7 4-0.9 26-9.7 3.2-3.9-0.3-6-0.9-2-8-8.6-6-12.5-4-2.6-6 1.3-4-0.8-4-3.5-2-5.3 1.5-6 4.5-7 4-2.3 14-3.1 2.7-1.6 2.4-4"/><path d="M156 88l2.3 4 7.7 6.9 60.8 45.1 18.9 18 0.2 2-1.4 4-3.8 6-16.7 13.1-8.7 8.9-0.9 2 1.6 1.4 2 0.3 30-4.9 12-2.8 10 0.5 10-4.9 4-1.2 18 0.3 22-3.8 70-8.7 20-2.2 22-1.3 26-8.9 6-2.9 4-4.8 0.7-4.1-1-8-3.7-7.1-6-4.6-1.6-2.3-6.4-11.8-4-3.1-5.9-1.1-1-2 1.8-2 5.1-2.1 4-0.3 10 1.6 18-4 2-1.5 1.9-3.7-2.5-6-0.5-4"/><path d="M104.8 88l1.2 3.6 4 6.6 42 60.9 6.9 8.9 24.3 18 18.8 10.6 3.2 3.4 0.1 4-11.9 12 0.6 2 30-4.7 20-5.9 6 0.3 4-0.7 15.9-5 12.1-7.5 8-3 12 0.1 20-3.8 22-3.1 96-10.7 8-3.9 16-5.3 8-5.1 2.5-3.7 1-4-0.5-10-1.8-10 0.8-3.7 4-3.6 8.5-2.7 3.5-2 10-10.1 4-0.7 16 3.4 10-3.3 24-4 22 7.9 4 0.5 16-0.7 7.3-3 4-4 4.3-14 0-4"/><path d="M102.1 88l2.5 6 5.1 8 40 58 7.7 10 24.6 18 20.3 12 0.6 2-0.9 2.3-35.1 27.7-3.2 4 2.3 1.3 30-4.4 26-7.4 8-3 12-6.2 30-9.7 14-7.6 8-2.9 14-1.5 24-4.3 50.1-6.3 57.9-5.7 8.3-4.3 17.7-6.2 8-5.6 2.9-4.2 1.3-4 0-16 1.8-3.6 2-0.8 6-0.2 22 4.9 16 1.5 8-1.2 14-4.7 10-0.2 4 1.6 6 3.7 10 11.8 2 1.1 2 0 2.8-1.9 2.5-10 2.7-2.5 8 1.9 12-0.9 14 1.1 3.5-1.6 6.5-7.2 6-2 14.9-2.8 4.5-2 0.4-2-9.7-14 0.1-2 1.8-0.5 10 0.6 4.6 1.9 1.1 2 0 2-2.5 10 2.8 1.9 8-2.2 24-12.4 8-0.3 10 1.7 10 4.1 18 9.1 12 9.1 8 2.1 2 1.6 3.1 5.3 2.9 1.9M753 88l-0.3 24-0.8 2-1.9 1.5-2 0.2-18-8.5-3.2-3.2 0.7-4 8.5-9.2 1.5-2.8"/><path d="M99.5 88l3.3 8 3.9 6 47.5 68 3.8 3.6 10 6.4 12 9.2 18.6 10.8 1.4 2-3.7 4-40.3 28.7-16.1 13.3-5.9 6-0.7 2 2.7 1 16-1.7 18-3.2 46-14.1 8-3.7 26-17.3 26-8.2 14-6.5 8-2.7 34-4.3 100-10.4 12-2.1 8-4.9 16-6.5 6-4 6.8-7.4 2-4 1.2-7.9 2-2.5 6 2.4 8 5.7 6 0.3 8 1.8 12 5.3 14 1.8 16-0.5 12 3.6 8 3.4 14 2.9 12-1.8 10 1.7 4-0.3 8.6-5.9 5.4-2.3 12 3.3 14 1.7 4.7-0.7 7.3-3.8 6 0.9 12 3.4 4 0.1 10-4.5 12 5.2 18 3.6 4-0.7 12-5.5 6-0.6 6 1.9 12.2 8 3.8 1.6"/><path d="M66 284l2-2 2-0.3 16-0.7 14-6.3 10-2.2 30-2.9 14-3 26-0.3 8-6.3 18-8.3 12-6.9 12.2-8.8 19.8-16.4 18-5.9 14-3.4 16-6.9 36-2.4 82-1.9 5.9-1.1 12.1-4.7 6-1.1 10 2.7 2-0.2 4.6-2.7 7.4-8 2-1.2 18-6.3 4 0.5 8 2.7 4 0.3 12-4.4 6-1.1 4 0.1 10 2.8 8 3.9 12 0.7 7.6 6 2.4 1 14 2 12 5.4 12-2.3 3.2 1.9 2.8 4.3 3.2 1.7 6.8-3.8 16 2.1 10-1.7 16-1.4 8 1 14 5.7 14-1.3 4 1.8 6 8.4 6 4.5 10 4.3 12 2.2 8 0.3 10.5-2.1 7.5-2.4 10-5.7 6-2.4"/><path d="M66 302.1l6-2.1 12-6.7 6-1.1 5.8-8.2 4.2-3 14-4 8 0 10-1.9 10-0.4 12-2.9 18 0.7 8 2.7 10 7.8 2 0.7 1.4-1.7 1.1-6 1.9-4 11-14 18.6-15 8-3.5 4.9-7.5 9.1-8.4 6-3.2 14-4.1 18-3.6 14-6 8-0.6 64 0.3 28 1 20 1.6 18-6.3 4 1 6 4.5 4 1 16-5.9 6-1.1 10 0.7 8 2.1 18-2.5 14 1.9 16 4 12 5.4 8-1.5 6 0.6 28 8.9 18 7.6 8 1.7 12 0.9 12-1 14 0 8-1.8 4 0.6 4.1 2.2 3.4 4 1.8 6 0.4 6-1.3 6 0 4 3.6 7.6-0.1 2.4-1.9 2.4-6 1.6-4 4.4-2.7 7.6-1.4 12-6 6-9.6 18-3.9 18 1.6 19.1 2 4.8 4-3.2 4-5.4 35.3-67.3 4.7-6.7 4-3 54-17.3 8-3.8 2-0.2 2 3.4 1 5.6 2.6 32 2.4 8.9"/><path d="M66 305.1l16-4.8 2 1.2 4 6.1 2-0.2 2.8-3.4 5.2-11.4 2.2-2.6 3.8-2.6 14-3.6 36-5.3 18-1.1 4 0.7 4 2.1 6 7 8 6.5 4 1.3 2-0.6 2.1-4.4 0.5-14 3.2-8 3.5-6 16.7-15.7 4-1 8 3.1 4-1.9 2-2.5 0.4-2-2.8-6 0-2 2.6-4 3.8-3.3 4.3-2.7 13.7-4.2 20-3.1 8-1.9 7.1-2.8 4.9-0.3 12 1.8 8 3.3 26 6.4 10 5.3 48 6 6-0.1 6-1.5 6-5.3 4-1.2 6 2.3 14 7.6 4 1.1 4-1.4 6-6.2 4-2.5 4 1.1 10 7.2 4 1.6 26-2.9 14 2.5 20-0.4 4 1.6 10 7.3 6 3.2 4 0.8 10-1.4 4 0.4 24 11.2 16.9 6.5 7.2 4 6 6 8.1 18-0.1 6-2.1 8-10.7 24-1.1 6 7.7 32 2.1 3.1 4 2.1 4-0.3 10-7.5 22-40.8 6-9.7 6-5.2 10-3.9 14-1.6 44-14.3 2 1.3 2 6.3 1.8 12.5 1.5 22 1.2 2 1.5 0.6"/><path stroke-dasharray="2.5 3.5" d="M66 306.9l14-1.7 2 0.9 1.2 1.9 2.8 7 2 0.2 4-2.8 2-2.6 6-13.2 6-4.5 8-1.2 12-3.6 10-1.2 8-2.5 12-0.5 16-2.9 4 0.6 2.4 1.2 5.6 7.7 9.3 6.3 4.7 1.7 4-0.7 2-1.8 1.5-3.2 1.2-18 1.5-6 1.8-3.4 16-16.5 4-0.4 6 3.8 4 1.5 2-0.4 3.3-2.6 3.5-4 0.7-2-0.4-2-4.6-6-0.6-2 0.8-2 3.3-3.5 4.2-2.5 15.8-4.7 12-0.6 20-3.1 2.4 0.4 3 2 10.6 11.4 20 4.1 12 3.5 8 0.1 24 3.1 10-1.6 18 1.5 10-2.8 8-0.6 6-1.5 6 2.5 10 7.6 12 3.3 4.2-0.6 7.8-4.2 2 0.1 6 2.9 4 0.5 26-2.4 10 0.1 4 2.1 4 4.7 2 0.6 8-0.5 4 1 20 9.1 22 7.4 9.3 4.6 12.7 4.8 7.7 5.2 12.1 12 2.2 3.4 0.5 4.6-4.6 20-1.8 12 0.4 4 3.2 8 4.3 6.3 7.2 13.7 4.8 5.8 6 3.3 4 0.2 6-3.4 6-1.6 18-32.5 6-8.6 6-4 14-5.5 18-1.6 38-12.2 2 1.2 2 7.3 2.3 17.6 3.7 1.9"/><path d="M66 309.5l12.4 0.5 1.9 2 1.1 10 2.6 1.7 6-3 5.3-4.7 4-6 2.7-8.3 2-2.7 1.9-1 8.1-0.7 8.2-3.3 11.8-2.4 12-4.4 8 0 10-3.4 4-0.6 8 0.8 6 8.4 6.1 3.6 7.9 3.4 6 0.1 5.3-3.5 2-4 0.9-20 1-4 12.7-16 2.1-1.6 2.5-0.4 11.5 7.3 4 0 8-7.3 3-4 0.2-2-0.9-2-7.2-8 0.4-2 2.5-2.3 3.9-1.7 12.1-3.4 4-0.5 4.3 1.9 7.7 7 10.5 3 1.5 1.2 4.1 8.8 1.9 2 4 1.5 12 0.4 24 4.1 10 0.7 12-1.6 20 0.5 14-1.2 12-2.2 10-4.6 4 0 7.7 2.4 8.3 7.8 12 7.2 8 1.2 18-1.4 6 1.7 10 5.4 4 0.7 6.9-0.6 11.1-3.4 10 4.3 10 3.1 12 8.1 20 4.6 10.6 7.3 15.4 8.7 6 6.2 4.8 7.1 2.5 6 1.3 8-3.4 14-2.5 6 0.1 2 1.6 2 15.6 10.3 8 9.8 2 1.2 8 1.9 12 7.6 2 0.6 8-4.2 6 0.5 2-0.6 2.5-3.1 11.5-20.8 6-7.3 4-2.4 20-7.9 6-1.3 14 0.2 34-10.4 2 2 1.7 5.9 1.4 2 4.9 0.9"/><path stroke-dasharray="2.5 3.5" d="M66 333.5l10 2.4 12-7.4 4-1.7 2 0 6 2.7 2-1.2 1.2-2.3 2.7-10 4.3-8 13.8-8.6 14-4.3 8-4 8-1 10-4.1 4-0.4 6 1.1 2 1.7 5.2 7.6 4.8 2.6 12 3.2 4-0.2 4-1.5 3.3-2.1 4-4 2.2-12 1.1-12 6.6-8 2.8-7.3 2-1 14 9 4 0 6-3.4 4-1.2 18 6.1 10 2.1 26 0.2 44-3.2 6 0.5 10 2.6 8-3.8 2 0.1 8 3.7 14-1.5 32 2.7 4 1 8 6.6 6 2.4 6 0.8 8-1.6 6 1 7.2 2.2 10.8 5.7 6 2.2 20 5.8 16 2.6 28.9 15.7 15.1 14.8 3.3 5.2 3.5 14 4.4 12 5.5 6 5.3 3.2 12 5.2 10 9.9 4 2.7 10-0.2 4 0.6 4 2 10 7.9 4 1.3 2.4-0.6 0.9-2-1.1-6 1.8-1.2 6 1.7 2-0.4 2.1-2.1 9.9-15.7 6-4.4 30-11.7 18 0.4 6-1.2 20-6.4 4-2.3 4-3.7 6-1.2M320.7 550l-0.7-0.9-4-0.9-92.9-2.2-9.1-2 31.3-4 6-2-0.2-2-9.6-6-1.7-2-3.4-8-2.4-2-6-0.2-14 3-2 0-2-1.1-2.3-5.7-3.7-19.5-2-3.7-2 0.2-2 3.2-4.8 15.8 2.9 18-1 12 1.5 2 4 2-0.4 2-4 4M266 229.7l2.3 0.3-0.3 2.2-4 2.2-3.2-0.4-0.1-2 4.1-2"/><path d="M66 335.9l4 1.1 8 3.9 8-4.7 4-0.8 2 1.1 6 7.1 2 0 6-2.4 2 1 5.4 5.8 4.6 1.2 4-0.4 4-4.2 3.3-8.6 0.8-16 4.5-16 13.4-9.1 18-7.1 4 0.3 3.7 1.9 4.3 8.4 4 2.6 18 2.9 12-3 2 1.1 2.1 8 1.9 3.2 2 1.6 4 0.1 3.4-2.9 1.2-2-0.3-2-3.8-4 0.2-4 1.4-2 7.9-6 3-4 0.2-2-3.4-8-0.8-4 0-2 1-1.5 4 0.7 12 5.3 12 2 40 0.3 24-4.8 22-2.6 6 1.4 12 7.8 2 0.5 6-1.7 8-4.8 2-0.1 12 2.1 12 5.9 4 1.1 18-1.6 4 0.5 20 9.7 4 1 10 0.3 15.3 6.5 6.1 4 8.6 7.6 18.8 8.4 3.2 3.4 7.4 12.6 31.7 36 12.9 9.1 4 1.4 14-2.3 12 1.3 5.1 2.5 8.9 8.4 4 2.5 6 1 10-2.1 4 0.1 8 5.3 4 1.6 12 0.6 16-16 36-14.7 6-1.3 20 0.8 20-6.1 2-1.4 2-4 2.7-14.7 1.6-2 3.7-1.3M323.2 550l-1.2-3.8-2-1.5-6-0.7-5.8-2 2.2-2-0.1-2-2.7-2-31.2-16-2.9-4-5.5-17.8-4-4-4-0.7-4 0.4-38 9.1-4-0.3-2-3.5-0.7-3.2-1.5-18-1.8-2.8-2-0.2-8 5.3-8 2.6-1.7 1.1-1.2 2-1.1 13.9-4.5 8.1-1.3 4 1.9 8-0.1 5.3-9.8 24.7"/><path stroke-dasharray="2.5 3.5" d="M66 337.3l6 2.6 6 5.2 2 0.6 6-2 2 0.7 2 2.3 4 8.1 4 4.2 4 0.4 10-2.1 2.5 0.7 5.5 4.1 2-0.4 12-9.4 4.1-4.3 2.4-10 11.5-18.3 1-5.7-1.3-14 0.8-2 4.6-4 4.9-2.7 6-1.1 3.6 1.8 4.4 9.8 4 2.8 16 2.2 12 0.4 7.5 12.8 2.5 1.9 4 0.9 4-0.7 8.9-6.1 2.1-4 1-6-1.1-2-3-2-0.6-2 8.7-6.6 6-3 4-0.6 40 0.4 14-1.6 22-5.1 10-0.3 10 3.4 8 0.6 8 6.2 4 1.9 4-0.7 6-2.4 4 0.4 6 4.9 4 1.9 29.2 6.6 36.8 13.6 3.2 2.4 11.4 12 11.4 8.2 15.8 15.8 22.2 11.5 8 9.4 5.7 3.1 22.3 7.7 12 5.4 16 3.3 14-2.2 12 5.9 8 2.1 6 2.7 4 0.5 4-1.1 6-3.4 2 0 6 1.7 10 0.4 10 2.1 54-21.7 4-0.5 22 1.2 14-4.1 2-1.2 1.7-2.8 1.1-4 1.2-5.9 2-22.1 0.6-2 3.4-2.3M324.9 550l0.6-4 2.5-1.9 29.7-2.1 9.5-2-0.6-2-55.3-28-3.3-4.8-7.8-27.2-4.2-5.7-4-2.5-4-0.2-6 0.9-64 15.2-2-1.3-4-11.8-4-2.8-4-0.4-8 3.4-18 4-26 9.7-14 1.5-28 5.5-28 7.5-8 0.5-4.8-3.5-3.2-0.9M100 377.9l0 2.4 2 1.1 2-0.5 0.2-0.9-1.5-2-2.7-0.1"/><path d="M66 338.8l6.3 3.2 3.2 4 2.5 4.8 2 1.1 4 0.5 2 2 7.1 15.6 1.2 10 3.6 4 5.9 4 1.1 2 0 8-4 6-1.6 4 0.7 4.7 2 1.6 4 1.2 20 3.2 28-5.2 10 0.6 2-0.7 1-1.4 0.6-6-1.2-6-1.3-2-3.1-1.8-4-0.2-9.9 4-18.1 4.6-6-0.5-6-1.9-2.1-2.2-0.5-2 2-18 2-4 10.2-4 6.7-8 13.2-12 3-4-1.2-10 6.1-10 1.3-4 1.1-10 0.1-16 2.1-2.4 4-1.5 2.7 1.9 2.9 8 6.4 5.2 6 2.5 18 3.5 4 2.8 8 9.6 4 1.6 6 0.8 4-0.6 10-3.6 2.9-3.8 3.1-8.3 4-6.8 4-2.3 8-2 22 0.6 16-3.2 14 0.6 14-2.4 8.3 1.8 7.7 3.1 8 9.2 2 0.8 4-0.8 10-4.1 6 0.8 10.7 5 13.3 8.4 14.3 3.6 9.7 5.6 14 0.2 6 0.8 3.9 1.4 1.5 4-2.6 16 1.2 3 2 0.2 14-4.6 6-0.6 6 1.5 5.5 4.5 1.3 2 0.6 4-1.4 3.6-4.9 6.4-0.7 2 1.6 2.5 10 4.3 4 0 8.3-8.8 3.7-1.6 2 0.3 2.6 1.3 2.4 4-0.4 14 0.3 2 1.7 2 15.4 6.9 16 0.3 6 1.1 4 2.1 8 6.4 14 7.1 14-2.2 18-6.1 10 0.2 16 1.7 12-3.5 12-1 6 0.2 8 2.2 14 2.5 6 0.3 6-1.3 32-12.2 26 1.4 10-2.2 2-1 2-2.5 2-6.8 2-18.7 1.2-22.9 0.8-3.3 2-1.7M774 525l-6-4.6-2-0.1-12 2.8-24-0.8-32 4.3-12-0.1-3.3 1.5-2.1 2-5.6 10-0.4 4 2.4 6M326.5 550l1.5-3 4-1 70.8-2 19.1-2 3.2-2-6.1-4-73-36.2-1.8-1.8-1.9-4-10.3-37-4-5.7-6-5.1-4-0.7-4 0.4-68 16.2-12 2.1-6.2-0.2 0.8-2 8.1-6 73.9-48 4-2 11.4-1.8 2-1.2 0.6-3-1.5-4-3.1-3.7-2-1-18-2.8-12-5.5-2-0.2-7.3 5.2-2.7 1-8-0.1-10-1.9-6 1.1-2.1 1.9-2.4 4-4.8 14-20.7 43.5-4.1 12.5-1.3 2-2.6 1.4-4-0.1-12-3.6-18 2.3-20-1-60 4.5-38 0.9M104 365.6l4-1.2 2 0.2 2 1.6 2.9 7.8-0.5 2-2.3 2-2.1 0.2-5.5-4.2-5.3-2-0.8-2 1.3-2 3.4-2"/><path stroke-dasharray="2.5 3.5" d="M66 340.3l4 1.7 2.1 2 2.1 4 1.8 10.8 4 1.7 2 1.8 6 10.9 3.6 8.8 6.3 6 2.1 3.4-0.8 4.6-4.3 6-1.7 4-3 10 0.5 4 5.3 2.6 18 3.7 24 2.9 6-1.6 11-7.6 3-1.2 10 0.5 2.4-1.3 2.4-4 2-16 0.2-8-1.1-4-1.9-2.7-2-1.2-2-0.1-4 1.3-18 11.3-14 5.2-4 0.6-4-0.8-2.6-1.6-1.4-4 0.6-8 1.5-4 1.9-1.1 10 1.2 4-0.9 16.8-7.2 4.9-4 1.8-12 3.7-6 1.3-4-3.2-10 0.3-4 3.1-14 1.3-2.7 2-0.8 4 1.3 8 6.8 4 2.3 18 4.3 8 4.2 4 1 10 1.4 12-0.9 12-4.3 2.9 1.4 7.1 8 4 2.7 12-0.1 24 7 2-0.9 10-9.6 4-1.2 6.3 4.1 3.7 4 0.7 2-0.6 4-5.8 8 0.3 8-0.7 2-1.9 1.5-6 0.3-16-5.4-4-0.2-4 2.6-8 11.3-4 0.4-8-4.2-12-0.1-5.8 1.8-5 4-12.7 14-0.8 4 0.8 12-1.3 6-13.4 28-3.6 6-2.2 2-2 0.5-12-1.5-16 0.4-12-2-18-0.8-58 2.3-28 3.8M774 493.9l-4-1-4-2.7-4-1.2-14-2.2-8-0.2-38 4-26 0.5-4 2-8 9.5-6 2.4-14-0.4-2-0.7-4.3-3.9-3.6-2-8.1-1.8-8 0.1-10 1.9-16 5.1-10.6 4.7-6.5 4-1.1 2 0 2 3 8 0.7 4-1.5 2.6-11.9 11.4-2.3 8M328.7 550l1.3-1.2 4-0.7 68-0.9 62-2.5 12 0.9 8.2-1.6 0.8-2-6.3-4-92.7-45.2-7-4.8-2-4-13.2-48-11.7-16-0.1-6.6 2-5.8 2-0.9 4-0.2 18 0.1 8 0.7 44 10.8 22 7.2 10-1.3 6 0.1 16 2.8 20-0.1 18 3.1 18-3.5 16 4.2 8 3.4 4 0.5 12-1 14-3.8 12 1.5 16-1.2 4-1.3 23-12.7 7-1.8 6 0.3 14 3.6 14 5 10 1.4 10-1.3 20-7.1 30 1.7 4-1 2-1.6 2.6-7.2 2.3-18 2.1-42 1-2.9"/><path d="M66 342.7l2.7 1.3 1.8 2 1.2 6-1.7 9.1-4 5.9M774 465.4l-4 1.1-4 4.4-2 0.9-18 1.4-4-0.1-3.6-1.1-8.4-6.4-4-1.5-2 0.5-8.7 5.4-11.3 2.1-8 0.1-12-1.3-30-6.2-14 0.9-18 4.4-4 0.2-14-6.3-18-3.4-2-1.6-1.1-2.9 1.1-4.2 6-4.9 2-0.7 6 1.1 14-0.2 6-1.4 6-2.8 32-19.4 4-1.7 16.3 2.2 21.7 9 10 2.2 14-0.7 12-2.9 28 2 4-0.3 2-1.3 1.2-2 1.9-6 2.9-27.9M433.2 550l26.8-0.6 4.7 0.6M74 369.6l2-0.1 2 1.1 9.1 13.4 5.2 6 0.2 2-2.5 2.4-6 0.4-2.2-0.8-2.3-2-5.5-10.7-6-7.3 0.1-2 4.2-2M128 387.6l4.8 2.4 0.9 2-2 2-3.7 0.6-1.2-0.6-1.2-2 0.5-4M184 403.9l12 4.4 2.4 1.7 3.2 4 11.5 18 0 6-3.1 5.5-2 1-6 0.4-20-1.1-10.9-3.8-7.3-4-2.2-2 0.6-4 1.8-2.8 8-3.3 4.3-3.9 5.7-15 1.8-1M416 453.7l8-0.4 4 1.6 11.1 17.1 5 6 3.9 2.6 8 1.9 26 2.5 14 5.7 12 3.2 4 2.3 4 3.2 2.7 4.6 3.4 12 0.2 6-2.3 1.1-10-3.7-10 0-10-2.9-74-36.5-3.4-4-1.5-8 2.4-10 2.1-4"/><path stroke-dasharray="2.5 3.5" d="M654 443.9l2-0.3 8 2.4 10 0.3 4 1.7 2.1 2 0.2 2-4.3 2.3-10-0.7-8.7-3.6-3-2-1-2 0.6-2M750 451.8l10 0.7 1.7 1.5 0.4 2-1.1 4-2.7 2-2.3 0.4-8 0.2-4-1.3-2.4-3.3 0.2-2 2.4-2 4.7-2"/></g>
<g font-family="Liberation Sans, sans-serif" font-size="19" fill="#000" stroke="#000" stroke-width="0.45" text-anchor="middle"><text x="214" y="323" transform="rotate(-20 214 316)">6</text><text x="212" y="340" transform="rotate(10 212 333)">6</text><text x="281" y="188" transform="rotate(-10 281 181)">6</text></g>
<path fill="#d3d3d3" stroke="#000" stroke-width="0.6" d="M60.0 80.0 L366.0 80.0 L366.0 92.0 L372.0 98.0 L377.0 104.0 L379.0 110.0 L376.0 115.0 L370.0 119.0 L364.0 122.0 L357.0 123.5 L350.0 124.5 L340.0 125.0 L320.0 125.5 L305.0 125.7 L298.0 129.6 L290.0 134.0 L283.5 139.7 L276.7 145.4 L272.2 148.7 L274.0 148.0 L281.0 142.0 L288.0 137.5 L294.7 134.0 L303.7 133.0 L312.7 133.0 L318.4 134.7 L319.5 137.5 L315.0 139.0 L307.0 140.3 L304.9 141.4 L310.5 141.4 L315.0 143.0 L316.0 146.5 L319.5 148.7 L322.9 150.0 L328.5 152.0 L333.0 153.0 L337.5 154.4 L340.9 152.0 L344.0 148.7 L347.6 150.0 L348.7 154.4 L342.0 156.6 L333.0 160.0 L324.0 163.4 L317.0 166.7 L311.6 170.0 L308.0 168.0 L311.0 164.0 L316.0 161.0 L311.0 161.5 L303.7 162.0 L298.0 163.4 L292.5 164.5 L286.9 168.0 L281.0 170.0 L276.7 173.5 L278.0 177.0 L282.0 182.0 L278.0 183.0 L276.0 181.0 L272.0 185.0 L264.0 189.0 L254.0 192.0 L251.3 192.5 L246.4 195.0 L242.3 198.2 L240.7 200.6 L243.1 204.7 L244.0 208.8 L242.3 212.0 L239.9 214.5 L239.0 218.5 L239.5 221.8 L238.3 225.0 L240.7 229.9 L237.4 234.8 L231.8 238.0 L226.9 241.3 L222.0 244.5 L214.0 246.0 L206.0 251.0 L201.6 255.4 L200.2 260.9 L201.6 267.6 L204.3 274.4 L207.0 281.2 L209.0 288.0 L209.7 294.8 L208.3 300.2 L205.6 302.2 L201.6 300.2 L197.5 294.8 L194.8 290.7 L192.0 283.9 L190.7 278.5 L189.3 274.4 L186.6 270.4 L182.6 267.6 L177.1 266.3 L170.4 264.9 L163.6 263.6 L156.8 263.6 L150.0 264.9 L142.5 266.0 L135.0 269.0 L120.0 270.0 L107.5 270.0 L100.0 272.5 L92.5 277.5 L87.9 285.0 L86.3 295.0 L86.3 305.0 L86.3 311.2 L87.9 320.9 L92.8 330.7 L97.7 338.9 L104.2 345.4 L110.7 348.6 L118.9 347.8 L127.0 346.2 L133.5 342.1 L136.8 334.0 L138.4 329.1 L146.5 326.6 L154.7 325.8 L160.4 327.5 L161.2 332.3 L158.0 338.9 L154.7 347.0 L151.4 355.1 L149.8 361.7 L149.8 365.7 L156.3 365.7 L167.7 364.9 L177.5 366.5 L184.0 368.2 L185.6 374.7 L186.3 380.0 L185.5 385.0 L183.8 391.2 L184.7 400.9 L189.5 407.5 L196.1 412.3 L202.6 414.0 L209.1 412.3 L215.6 410.7 L222.1 412.3 L227.0 414.0 L228.6 409.1 L233.5 405.8 L238.4 402.6 L241.7 400.9 L248.2 399.3 L254.7 397.7 L259.6 392.8 L264.5 390.4 L269.3 392.8 L274.2 394.4 L280.7 396.1 L290.0 397.7 L295.0 402.5 L305.0 402.5 L315.0 404.0 L325.0 402.5 L335.0 404.0 L340.0 406.0 L345.0 415.0 L352.5 419.0 L360.0 425.0 L370.0 435.0 L385.0 437.5 L395.0 440.0 L405.0 445.0 L412.5 450.0 L417.5 460.0 L420.0 470.0 L416.5 472.5 L413.0 479.0 L410.0 490.0 L420.0 489.0 L429.5 482.0 L439.0 479.0 L449.0 482.0 L459.0 493.6 L475.0 497.0 L491.0 498.5 L507.5 505.0 L520.5 515.0 L525.0 524.5 L524.0 537.5 L519.0 547.0 L519.0 560.0 L222.0 560.0 L222.0 546.5 L219.0 539.0 L213.0 530.0 L207.0 521.0 L201.0 512.0 L204.0 503.0 L210.0 494.0 L204.0 485.0 L207.5 482.4 L210.7 474.2 L215.6 467.7 L220.5 461.2 L225.4 453.1 L230.3 450.6 L228.6 446.5 L227.0 438.4 L225.4 431.9 L227.0 423.7 L225.4 418.9 L220.5 417.2 L214.0 415.6 L209.1 417.2 L207.5 420.5 L204.2 425.4 L197.7 423.7 L187.9 418.9 L179.8 412.3 L177.5 407.3 L171.0 400.7 L164.5 394.2 L154.7 387.7 L143.3 382.8 L131.9 379.6 L125.4 374.7 L118.9 371.4 L110.7 366.5 L99.3 364.9 L91.2 366.5 L79.8 361.7 L70.0 359.2 L60.0 359.0Z"/><path fill="#d3d3d3" stroke="#000" stroke-width="0.6" d="M356.0 143.0 L362.0 136.0 L368.0 128.0 L372.0 122.0 L376.0 118.0 L379.0 117.0 L380.0 121.0 L382.0 128.0 L388.0 132.0 L394.0 134.0 L398.0 140.0 L400.0 144.0 L396.0 150.0 L392.0 146.0 L384.0 146.0 L376.0 148.0 L368.0 146.0 L360.0 144.5Z"/><path fill="#d3d3d3" stroke="#000" stroke-width="0.6" d="M320.6 128.5 L328.0 129.5 L337.5 131.5 L332.0 132.5 L324.0 131.0Z"/><path fill="#d3d3d3" stroke="#000" stroke-width="0.6" d="M177.1 323.3 L182.6 319.2 L190.7 317.8 L201.6 316.5 L209.7 317.8 L217.8 320.6 L226.0 326.0 L234.1 331.4 L245.0 334.1 L250.0 335.5 L245.0 337.5 L236.8 336.8 L228.7 334.1 L220.6 330.0 L212.4 327.3 L204.3 326.0 L196.1 324.6 L188.0 324.0 L179.9 324.6Z"/><path fill="#d3d3d3" stroke="#000" stroke-width="0.6" d="M247.0 339.0 L252.0 338.0 L258.0 339.0 L265.0 338.5 L272.0 339.0 L278.0 340.0 L284.0 342.0 L289.0 345.0 L291.0 349.0 L284.0 350.0 L276.0 351.0 L268.0 351.0 L262.0 349.0 L256.0 348.5 L250.0 350.0 L247.0 348.0 L252.0 345.0 L249.0 342.0Z"/><path fill="#d3d3d3" stroke="#000" stroke-width="0.6" d="M221.5 349.5 L226.0 347.5 L232.0 347.8 L236.5 350.0 L231.0 352.5 L225.0 352.0Z"/><path fill="#d3d3d3" stroke="#000" stroke-width="0.6" d="M299.0 348.0 L305.0 347.5 L311.0 348.5 L309.0 350.5 L301.0 350.5Z"/><path fill="#d3d3d3" stroke="#000" stroke-width="0.6" d="M700.0 88.0 L726.0 88.0 L729.0 100.0 L728.0 107.0 L722.0 112.0 L712.0 116.0 L702.0 117.0 L697.0 112.0 L699.0 104.0 L697.0 97.0Z"/><path fill="#d3d3d3" stroke="#000" stroke-width="0.6" d="M735.0 88.0 L780.0 88.0 L780.0 121.0 L770.0 121.0 L760.0 122.0 L748.0 124.0 L738.0 125.0 L731.0 126.5 L737.0 121.5 L746.0 118.0 L741.0 115.0 L735.0 113.5 L739.0 108.0 L743.0 104.0 L741.0 98.0 L737.0 95.0Z"/><path fill="#d3d3d3" stroke="#000" stroke-width="0.6" d="M780.0 133.0 L770.0 133.0 L762.0 134.0 L755.0 134.5 L748.0 135.0 L741.0 137.0 L734.0 139.5 L740.0 141.0 L746.0 143.0 L752.0 146.0 L757.0 151.0 L760.0 157.0 L763.0 163.0 L762.0 169.0 L760.0 172.5 L750.0 173.0 L740.0 173.5 L728.0 173.5 L718.0 173.5 L709.0 174.0 L707.5 176.0 L709.0 182.0 L711.0 193.0 L706.0 203.0 L709.0 216.0 L720.7 217.7 L728.9 224.0 L732.0 226.0 L737.0 224.0 L748.0 222.6 L758.0 219.0 L768.0 211.0 L780.0 208.0Z"/><path fill="#d3d3d3" stroke="#000" stroke-width="0.6" d="M780.0 226.0 L770.0 225.0 L765.0 227.5 L750.0 230.0 L740.0 229.0 L733.0 227.5 L725.0 237.5 L712.5 245.0 L705.0 252.5 L701.0 262.5 L700.0 269.0 L690.0 275.0 L680.0 282.5 L672.5 292.5 L665.0 302.5 L657.5 315.0 L654.0 325.0 L652.5 330.0 L657.5 335.0 L660.0 342.5 L657.5 355.0 L654.0 365.0 L652.0 372.0 L652.5 387.5 L662.5 395.0 L672.5 407.5 L677.5 417.5 L682.5 425.0 L695.0 432.5 L705.0 440.0 L717.5 445.0 L732.5 442.5 L745.0 440.0 L755.0 442.5 L765.0 440.0 L770.0 439.0 L780.0 439.0Z"/><path fill="#d3d3d3" stroke="#000" stroke-width="0.5" d="M219.0 289.0 L225.0 289.5 L224.0 291.0 L219.0 290.5Z"/><path fill="#d3d3d3" stroke="#000" stroke-width="0.5" d="M222.0 298.0 L225.0 296.0 L227.0 303.0 L225.0 309.0 L222.0 305.0Z"/><path fill="#d3d3d3" stroke="#000" stroke-width="0.5" d="M229.0 292.0 L231.0 293.0 L231.0 300.0 L229.0 298.0Z"/><path fill="#d3d3d3" stroke="#000" stroke-width="0.5" d="M233.0 305.0 L236.0 307.0 L235.0 310.0Z"/><path fill="#d3d3d3" stroke="#000" stroke-width="0.5" d="M238.0 312.0 L242.0 314.0 L240.0 316.0Z"/><path fill="#d3d3d3" stroke="#000" stroke-width="0.5" d="M246.0 318.0 L249.0 320.0 L247.0 322.0Z"/><path fill="#d3d3d3" stroke="#000" stroke-width="0.5" d="M229.0 313.0 L233.0 315.0 L231.0 316.0Z"/><path fill="#d3d3d3" stroke="#000" stroke-width="0.5" d="M330.0 362.0 L332.0 363.0 L331.0 365.0Z"/><path fill="#d3d3d3" stroke="#000" stroke-width="0.5" d="M332.0 370.0 L334.0 371.0 L333.0 373.0Z"/><path fill="#d3d3d3" stroke="#000" stroke-width="0.5" d="M334.0 378.0 L336.0 380.0 L334.0 381.0Z"/><path fill="#d3d3d3" stroke="#000" stroke-width="0.5" d="M333.0 388.0 L335.0 389.0 L333.0 391.0Z"/><path fill="#d3d3d3" stroke="#000" stroke-width="0.5" d="M340.0 401.0 L345.0 401.0 L344.0 405.0 L340.0 405.0Z"/><path fill="#d3d3d3" stroke="#000" stroke-width="0.5" d="M652.0 277.0 L655.0 276.0 L655.0 279.0Z"/><path fill="#d3d3d3" stroke="#000" stroke-width="0.5" d="M660.0 278.0 L663.0 277.0 L663.0 280.0Z"/><path fill="#d3d3d3" stroke="#000" stroke-width="0.5" d="M668.0 277.0 L672.0 276.0 L672.0 279.0Z"/><path fill="#d3d3d3" stroke="#000" stroke-width="0.5" d="M676.0 276.0 L679.0 275.0 L679.0 278.0Z"/><path fill="#00c8f0" stroke="#000" stroke-width="0.6" d="M124.7 149.9 L132.5 146.8 L140.3 142.8 L146.6 138.9 L152.8 135.0 L160.6 135.8 L166.9 138.9 L173.1 142.0 L176.3 145.2 L179.4 151.4 L176.3 152.2 L171.6 151.4 L166.9 150.7 L162.2 151.4 L157.5 149.9 L152.8 148.3 L149.7 149.9 L143.4 151.4 L135.6 150.7 L129.4 150.7Z"/><path fill="#00c8f0" stroke="#000" stroke-width="0.6" d="M154.4 165.5 L160.6 159.3 L166.9 156.9 L173.1 155.3 L176.3 156.9 L171.6 160.8 L166.9 163.9 L166.1 171.8 L165.3 179.6 L162.2 185.0 L157.5 185.0 L155.2 179.6 L155.2 171.8Z"/><path fill="#00c8f0" stroke="#000" stroke-width="0.6" d="M177.8 155.3 L185.6 154.6 L195.0 155.3 L202.8 156.1 L207.5 159.3 L211.4 164.7 L207.5 165.5 L201.3 162.4 L198.1 167.0 L196.6 173.3 L193.4 174.9 L190.3 171.8 L187.2 170.2 L184.0 171.8 L182.5 168.6 L185.6 163.9 L184.0 159.3 L180.9 157.7Z"/><path fill="#00c8f0" stroke="#000" stroke-width="0.6" d="M185.6 184.3 L190.3 181.1 L198.1 179.6 L207.5 178.0 L216.9 177.2 L213.8 179.6 L204.4 182.7 L195.0 185.8 L188.8 186.6Z"/><path fill="#00c8f0" stroke="#000" stroke-width="0.6" d="M212.2 174.1 L216.9 171.0 L226.3 169.4 L235.6 167.0 L239.5 166.3 L235.6 170.2 L232.5 173.3 L223.1 174.1 L215.3 174.9Z"/><path fill="#00c8f0" stroke="#000" stroke-width="0.6" d="M192.5 88.0 L218.0 88.0 L218.0 100.0 L220.0 108.0 L224.0 111.0 L220.0 116.0 L210.0 119.0 L204.0 120.0 L200.0 112.5 L196.0 106.0 L194.0 100.0Z"/><path fill="#00c8f0" stroke="#000" stroke-width="0.6" d="M77.0 99.0 L82.5 96.5 L86.0 99.0 L89.0 106.0 L92.5 113.0 L96.0 118.0 L95.0 124.0 L91.0 124.0 L89.0 117.5 L85.0 112.5 L80.0 107.5Z"/><path fill="#00c8f0" stroke="#000" stroke-width="0.6" d="M70.0 104.0 L72.0 104.0 L72.5 112.0 L76.0 118.0 L80.0 121.0 L82.0 125.0 L78.0 125.0 L74.0 120.0 L70.0 118.0Z"/><path fill="#00c8f0" stroke="#000" stroke-width="0.6" d="M235.0 203.0 L237.0 202.0 L238.0 208.0 L237.5 214.0 L238.0 220.0 L236.5 221.0 L236.0 214.0 L234.5 208.0Z"/><path fill="#00c8f0" stroke="#000" stroke-width="0.6" d="M239.0 201.0 L241.0 202.0 L240.0 205.0 L238.5 204.0Z"/><path fill="#00c8f0" stroke="#000" stroke-width="0.6" d="M235.0 226.0 L238.0 225.5 L239.0 230.0 L236.5 232.5 L234.0 230.0Z"/><path fill="#00c8f0" stroke="#000" stroke-width="0.6" d="M103.0 130.0 L108.0 129.0 L108.0 132.0 L104.0 133.0Z"/>
<g stroke="#000" stroke-opacity="0.45" stroke-width="1"><line x1="140" y1="92" x2="140" y2="547" /><line x1="210" y1="92" x2="210" y2="547" /><line x1="280" y1="92" x2="280" y2="547" /><line x1="350" y1="92" x2="350" y2="547" /><line x1="420" y1="92" x2="420" y2="547" /><line x1="490" y1="92" x2="490" y2="547" /><line x1="560" y1="92" x2="560" y2="547" /><line x1="630" y1="92" x2="630" y2="547" /><line x1="700" y1="92" x2="700" y2="547" /><line x1="70" y1="127.5" x2="770" y2="127.5" /><line x1="70" y1="197.5" x2="770" y2="197.5" /><line x1="70" y1="267.5" x2="770" y2="267.5" /><line x1="70" y1="337.5" x2="770" y2="337.5" /><line x1="70" y1="407.5" x2="770" y2="407.5" /><line x1="70" y1="477.5" x2="770" y2="477.5" /></g>
<g font-family="Liberation Sans, sans-serif" font-size="19" fill="#000" stroke="#000" stroke-width="0.45" text-anchor="middle"><text x="470" y="135">8</text><text x="509" y="139">10</text><text x="658" y="129" transform="rotate(60 658 122)">12</text><text x="551" y="165">14</text><text x="487" y="186">16</text><text x="636" y="208">16</text><text x="442" y="173" transform="rotate(90 442 166)">6</text><text x="320" y="188">8</text><text x="362" y="182">10</text><text x="237" y="240" transform="rotate(-50 237 233)">16</text><text x="285" y="235">22</text><text x="362" y="226">20</text><text x="412" y="236">20</text><text x="494" y="224">18</text><text x="536" y="221">18</text><text x="297" y="274">22</text><text x="344" y="278">24</text><text x="480" y="273" transform="rotate(80 480 266)">22</text><text x="623" y="272" transform="rotate(90 623 265)">20</text><text x="301" y="315">26</text><text x="595" y="362">22</text><text x="652" y="355" transform="rotate(-80 652 348)">18</text><text x="523" y="401">26</text><text x="620" y="404">24</text><text x="602" y="457">28</text><text x="158" y="473">26</text><text x="196" y="514" transform="rotate(-80 196 507)">22</text><text x="507" y="512" transform="rotate(40 507 505)">28</text><text x="185" y="285" transform="rotate(60 185 278)">14</text></g>
</g>
<rect x="70" y="92.5" width="700" height="455" fill="none" stroke="#000" stroke-width="1"/>
<g stroke="#333" stroke-width="1"><line x1="55" y1="127.5" x2="70" y2="127.5"/><line x1="770" y1="127.5" x2="785" y2="127.5"/><line x1="55" y1="197.5" x2="70" y2="197.5"/><line x1="770" y1="197.5" x2="785" y2="197.5"/><line x1="55" y1="267.5" x2="70" y2="267.5"/><line x1="770" y1="267.5" x2="785" y2="267.5"/><line x1="55" y1="337.5" x2="70" y2="337.5"/><line x1="770" y1="337.5" x2="785" y2="337.5"/><line x1="55" y1="407.5" x2="70" y2="407.5"/><line x1="770" y1="407.5" x2="785" y2="407.5"/><line x1="55" y1="477.5" x2="70" y2="477.5"/><line x1="770" y1="477.5" x2="785" y2="477.5"/><line x1="55" y1="547.5" x2="70" y2="547.5"/><line x1="770" y1="547.5" x2="785" y2="547.5"/><line x1="70" y1="77" x2="70" y2="92"/><line x1="70" y1="547" x2="70" y2="562.5"/><line x1="140" y1="77" x2="140" y2="92"/><line x1="140" y1="547" x2="140" y2="562.5"/><line x1="210" y1="77" x2="210" y2="92"/><line x1="210" y1="547" x2="210" y2="562.5"/><line x1="280" y1="77" x2="280" y2="92"/><line x1="280" y1="547" x2="280" y2="562.5"/><line x1="350" y1="77" x2="350" y2="92"/><line x1="350" y1="547" x2="350" y2="562.5"/><line x1="420" y1="77" x2="420" y2="92"/><line x1="420" y1="547" x2="420" y2="562.5"/><line x1="490" y1="77" x2="490" y2="92"/><line x1="490" y1="547" x2="490" y2="562.5"/><line x1="560" y1="77" x2="560" y2="92"/><line x1="560" y1="547" x2="560" y2="562.5"/><line x1="630" y1="77" x2="630" y2="92"/><line x1="630" y1="547" x2="630" y2="562.5"/><line x1="700" y1="77" x2="700" y2="92"/><line x1="700" y1="547" x2="700" y2="562.5"/><line x1="770" y1="77" x2="770" y2="92"/><line x1="770" y1="547" x2="770" y2="562.5"/></g>
<g font-family="Liberation Sans, sans-serif" font-size="16" fill="#000"><text x="44" y="133.5" text-anchor="end">50N</text><text x="44" y="203.5" text-anchor="end">40N</text><text x="44" y="273.5" text-anchor="end">30N</text><text x="44" y="343.5" text-anchor="end">20N</text><text x="44" y="413.5" text-anchor="end">10N</text><text x="44" y="483.5" text-anchor="end">0</text><text x="44" y="553.5" text-anchor="end">10S</text><text x="70" y="587" text-anchor="middle">100W</text><text x="140" y="587" text-anchor="middle">90W</text><text x="210" y="587" text-anchor="middle">80W</text><text x="280" y="587" text-anchor="middle">70W</text><text x="350" y="587" text-anchor="middle">60W</text><text x="420" y="587" text-anchor="middle">50W</text><text x="490" y="587" text-anchor="middle">40W</text><text x="560" y="587" text-anchor="middle">30W</text><text x="630" y="587" text-anchor="middle">20W</text><text x="700" y="587" text-anchor="middle">10W</text><text x="770" y="587" text-anchor="middle">0</text></g>
<text x="420" y="609.5" text-anchor="middle" font-family="Liberation Sans, sans-serif" font-weight="bold" font-size="14.7" textLength="647" lengthAdjust="spacingAndGlyphs">Ocean Analysis - Reynolds Daily Sea Surface Temperature (C) - valid: 2026 - 01 - 20</text>
<rect x="111.40" y="627.5" width="19.27" height="40" fill="#00c8f0"/><rect x="130.67" y="627.5" width="19.27" height="40" fill="#00eeff"/><rect x="149.94" y="627.5" width="19.27" height="40" fill="#1ef0ff"/><rect x="169.21" y="627.5" width="19.27" height="40" fill="#3cf0ff"/><rect x="188.48" y="627.5" width="19.27" height="40" fill="#64f2ff"/><rect x="207.74" y="627.5" width="19.27" height="40" fill="#8cf6ff"/><rect x="227.01" y="627.5" width="19.27" height="40" fill="#8cf6d6"/><rect x="246.28" y="627.5" width="19.27" height="40" fill="#6cf2a0"/><rect x="265.55" y="627.5" width="19.27" height="40" fill="#46f064"/><rect x="284.82" y="627.5" width="19.27" height="40" fill="#1ef032"/><rect x="304.09" y="627.5" width="19.27" height="40" fill="#00f000"/><rect x="323.36" y="627.5" width="19.27" height="40" fill="#32f000"/><rect x="342.62" y="627.5" width="19.27" height="40" fill="#64f000"/><rect x="361.89" y="627.5" width="19.27" height="40" fill="#8cf000"/><rect x="381.16" y="627.5" width="19.27" height="40" fill="#b4f000"/><rect x="400.43" y="627.5" width="19.27" height="40" fill="#cdf200"/><rect x="419.70" y="627.5" width="19.27" height="40" fill="#d7f500"/><rect x="438.97" y="627.5" width="19.27" height="40" fill="#e1f800"/><rect x="458.24" y="627.5" width="19.27" height="40" fill="#ebfa00"/><rect x="477.51" y="627.5" width="19.27" height="40" fill="#f5fc00"/><rect x="496.77" y="627.5" width="19.27" height="40" fill="#fffa00"/><rect x="516.04" y="627.5" width="19.27" height="40" fill="#ffeb00"/><rect x="535.31" y="627.5" width="19.27" height="40" fill="#ffd700"/><rect x="554.58" y="627.5" width="19.27" height="40" fill="#ffc400"/><rect x="573.85" y="627.5" width="19.27" height="40" fill="#ffaf00"/><rect x="593.12" y="627.5" width="19.27" height="40" fill="#ff9b00"/><rect x="612.39" y="627.5" width="19.27" height="40" fill="#ff8700"/><rect x="631.66" y="627.5" width="19.27" height="40" fill="#ff6e00"/><rect x="650.92" y="627.5" width="19.27" height="40" fill="#ff5800"/><rect x="670.19" y="627.5" width="19.27" height="40" fill="#ff4200"/><rect x="689.46" y="627.5" width="19.27" height="40" fill="#ff3000"/><rect x="708.73" y="627.5" width="19.27" height="40" fill="#ff1e00"/>
<g stroke="#000" stroke-width="0.8"><line x1="130.67" y1="627.5" x2="130.67" y2="667.5"/><line x1="149.94" y1="627.5" x2="149.94" y2="667.5"/><line x1="169.21" y1="627.5" x2="169.21" y2="667.5"/><line x1="188.48" y1="627.5" x2="188.48" y2="667.5"/><line x1="207.74" y1="627.5" x2="207.74" y2="667.5"/><line x1="227.01" y1="627.5" x2="227.01" y2="667.5"/><line x1="246.28" y1="627.5" x2="246.28" y2="667.5"/><line x1="265.55" y1="627.5" x2="265.55" y2="667.5"/><line x1="284.82" y1="627.5" x2="284.82" y2="667.5"/><line x1="304.09" y1="627.5" x2="304.09" y2="667.5"/><line x1="323.36" y1="627.5" x2="323.36" y2="667.5"/><line x1="342.62" y1="627.5" x2="342.62" y2="667.5"/><line x1="361.89" y1="627.5" x2="361.89" y2="667.5"/><line x1="381.16" y1="627.5" x2="381.16" y2="667.5"/><line x1="400.43" y1="627.5" x2="400.43" y2="667.5"/><line x1="419.70" y1="627.5" x2="419.70" y2="667.5"/><line x1="438.97" y1="627.5" x2="438.97" y2="667.5"/><line x1="458.24" y1="627.5" x2="458.24" y2="667.5"/><line x1="477.51" y1="627.5" x2="477.51" y2="667.5"/><line x1="496.77" y1="627.5" x2="496.77" y2="667.5"/><line x1="516.04" y1="627.5" x2="516.04" y2="667.5"/><line x1="535.31" y1="627.5" x2="535.31" y2="667.5"/><line x1="554.58" y1="627.5" x2="554.58" y2="667.5"/><line x1="573.85" y1="627.5" x2="573.85" y2="667.5"/><line x1="593.12" y1="627.5" x2="593.12" y2="667.5"/><line x1="612.39" y1="627.5" x2="612.39" y2="667.5"/><line x1="631.66" y1="627.5" x2="631.66" y2="667.5"/><line x1="650.92" y1="627.5" x2="650.92" y2="667.5"/><line x1="670.19" y1="627.5" x2="670.19" y2="667.5"/><line x1="689.46" y1="627.5" x2="689.46" y2="667.5"/><line x1="708.73" y1="627.5" x2="708.73" y2="667.5"/></g>
<rect x="111.4" y="627.5" width="616.6" height="40" fill="none" stroke="#000" stroke-width="0.8"/>
<g font-family="Liberation Sans, sans-serif" font-size="18" fill="#000"><text x="130.7" y="694" text-anchor="middle">5</text><text x="227.0" y="694" text-anchor="middle">10</text><text x="323.4" y="694" text-anchor="middle">15</text><text x="419.7" y="694" text-anchor="middle">20</text><text x="516.0" y="694" text-anchor="middle">25</text><text x="612.4" y="694" text-anchor="middle">30</text><text x="708.7" y="694" text-anchor="middle">35</text></g>
<text x="774" y="723.7" text-anchor="end" font-family="Liberation Sans, sans-serif" font-size="13" textLength="358" lengthAdjust="spacingAndGlyphs">Data Source: National Climatic Data Center (NCDC/NOAA)</text>
</svg></body></html>
